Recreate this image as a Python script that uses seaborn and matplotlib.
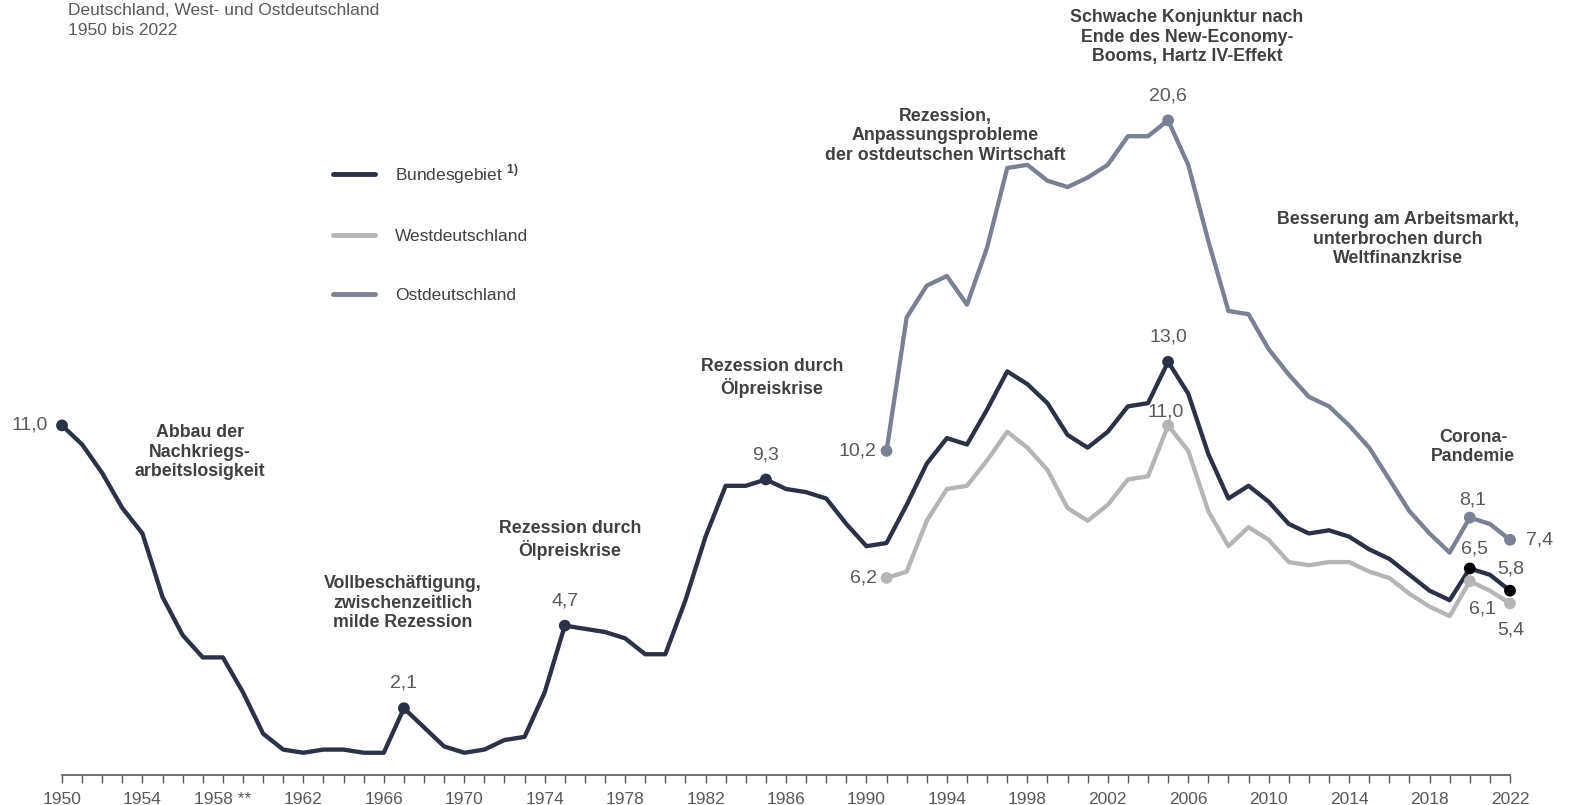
import numpy as np
import pandas as pd
import matplotlib
matplotlib.use("Agg")
import matplotlib.pyplot as plt
import seaborn as sns

# ---------------- data ----------------
years_bund = list(range(1950, 2023))
bund = [11.0, 10.4, 9.5, 8.4, 7.6, 5.6, 4.4, 3.7, 3.7, 2.6,
        1.3, 0.8, 0.7, 0.8, 0.8, 0.7, 0.7, 2.1, 1.5, 0.9,
        0.7, 0.8, 1.1, 1.2, 2.6, 4.7, 4.6, 4.5, 4.3, 3.8,
        3.8, 5.5, 7.5, 9.1, 9.1, 9.3, 9.0, 8.9, 8.7, 7.9,
        7.2, 7.3, 8.5, 9.8, 10.6, 10.4, 11.5, 12.7, 12.3, 11.7,
        10.7, 10.3, 10.8, 11.6, 11.7, 13.0, 12.0, 10.1, 8.7, 9.1,
        8.6, 7.9, 7.6, 7.7, 7.5, 7.1, 6.8, 6.3, 5.8, 5.5,
        6.5, 6.3, 5.8]
years_ow = list(range(1991, 2023))
west = [6.2, 6.4, 8.0, 9.0, 9.1, 9.9, 10.8, 10.3, 9.6, 8.4,
        8.0, 8.5, 9.3, 9.4, 11.0, 10.2, 8.3, 7.2, 7.8, 7.4,
        6.7, 6.6, 6.7, 6.7, 6.4, 6.2, 5.7, 5.3, 5.0, 6.1,
        5.8, 5.4]
ost = [10.2, 14.4, 15.4, 15.7, 14.8, 16.6, 19.1, 19.2, 18.7, 18.5,
       18.8, 19.2, 20.1, 20.1, 20.6, 19.2, 16.8, 14.6, 14.5, 13.4,
       12.6, 11.9, 11.6, 11.0, 10.3, 9.3, 8.3, 7.6, 7.0, 8.1,
       7.9, 7.4]

series_names = ["Bundesgebiet", "Westdeutschland", "Ostdeutschland"]
legend_labels = [r"Bundesgebiet $^{\mathbf{1)}}$", "Westdeutschland", "Ostdeutschland"]
tick_years = list(range(1950, 2023, 4))
tick_labels = [("1958 **" if y == 1958 else str(y)) for y in tick_years]

title_text = "Deutschland, West- und Ostdeutschland\n1950 bis 2022"

# highlighted points: (series, year, label)
marked = [
    ("Bundesgebiet", 1950, "11,0"), ("Bundesgebiet", 1967, "2,1"),
    ("Bundesgebiet", 1975, "4,7"), ("Bundesgebiet", 1985, "9,3"),
    ("Bundesgebiet", 2005, "13,0"), ("Bundesgebiet", 2020, "6,5"),
    ("Bundesgebiet", 2022, "5,8"),
    ("Westdeutschland", 1991, "6,2"), ("Westdeutschland", 2005, "11,0"),
    ("Westdeutschland", 2020, "6,1"), ("Westdeutschland", 2022, "5,4"),
    ("Ostdeutschland", 1991, "10,2"), ("Ostdeutschland", 2005, "20,6"),
    ("Ostdeutschland", 2020, "8,1"), ("Ostdeutschland", 2022, "7,4"),
]

annotations = [
    "Abbau der\nNachkriegs-\narbeitslosigkeit",
    "Vollbeschäftigung,\nzwischenzeitlich\nmilde Rezession",
    "Rezession durch\nÖlpreiskrise",
    "Rezession durch\nÖlpreiskrise",
    "Rezession,\nAnpassungsprobleme\nder ostdeutschen Wirtschaft",
    "Schwache Konjunktur nach\nEnde des New-Economy-\nBooms, Hartz IV-Effekt",
    "Besserung am Arbeitsmarkt,\nunterbrochen durch\nWeltfinanzkrise",
    "Corona-\nPandemie",
]

# ---------------- style ----------------
sns.set_theme(style="white")
plt.rcParams["font.family"] = ["Liberation Sans", "DejaVu Sans"]
plt.rcParams["mathtext.fontset"] = "custom"
plt.rcParams["mathtext.rm"] = "Liberation Sans"
plt.rcParams["mathtext.bf"] = "Liberation Sans:bold"

colors = {"Bundesgebiet": "#2c3246", "Westdeutschland": "#b5b5b5", "Ostdeutschland": "#7a8192"}
TXT = "#404040"
VAL = "#595959"

W, H = 1569, 805
fig = plt.figure(figsize=(W / 100, H / 100), dpi=100)
ax = fig.add_axes([62 / W, 30 / H, 1448 / W, 775 / H])

df = pd.concat([
    pd.DataFrame({"Jahr": years_bund, "Quote": bund, "Gebiet": "Bundesgebiet"}),
    pd.DataFrame({"Jahr": years_ow, "Quote": west, "Gebiet": "Westdeutschland"}),
    pd.DataFrame({"Jahr": years_ow, "Quote": ost, "Gebiet": "Ostdeutschland"}),
], ignore_index=True)

sns.lineplot(data=df, x="Jahr", y="Quote", hue="Gebiet", hue_order=series_names,
             palette=colors, linewidth=3.1, ax=ax, legend=True)
for ln in ax.lines:
    ln.set_clip_on(False)
    ln.set_solid_joinstyle("round")
ax.lines[0].set_zorder(4)

# markers
lookup = {(r.Gebiet, r.Jahr): r.Quote for r in df.itertuples()}
mk = pd.DataFrame([{"Jahr": y, "Quote": lookup[(s, y)], "Gebiet": s, "lab": l} for s, y, l in marked])
mk["farbe"] = [("#000000" if (s == "Bundesgebiet" and y >= 2020) else colors[s])
               for s, y in zip(mk["Gebiet"], mk["Jahr"])]
for farbe, sub in mk.groupby("farbe"):
    sns.scatterplot(data=sub, x="Jahr", y="Quote", color=farbe, s=72, edgecolor="none",
                    ax=ax, legend=False, zorder=6, clip_on=False)

# value label offsets in pixels (dx, dy, ha)
PT = 72 / 100
offs = {
    ("Bundesgebiet", 1950): (-14, 0, "right"),
    ("Bundesgebiet", 1967): (0, 25, "center"),
    ("Bundesgebiet", 1975): (0, 25, "center"),
    ("Bundesgebiet", 1985): (0, 24, "center"),
    ("Bundesgebiet", 2005): (0, 25, "center"),
    ("Bundesgebiet", 2020): (5, 19, "center"),
    ("Bundesgebiet", 2022): (1, 22, "center"),
    ("Westdeutschland", 1991): (-10, 0, "right"),
    ("Westdeutschland", 2005): (-2, 13, "center"),
    ("Westdeutschland", 2020): (13, -28, "center"),
    ("Westdeutschland", 2022): (1, -27, "center"),
    ("Ostdeutschland", 1991): (-10, 0, "right"),
    ("Ostdeutschland", 2005): (0, 24, "center"),
    ("Ostdeutschland", 2020): (3, 18, "center"),
    ("Ostdeutschland", 2022): (16, 0, "left"),
}
for r in mk.itertuples():
    dx, dy, ha = offs[(r.Gebiet, r.Jahr)]
    ax.annotate(r.lab, (r.Jahr, r.Quote), xytext=(dx * PT, dy * PT), textcoords="offset points",
                ha=ha, va="center", fontsize=14, color=VAL, zorder=7, annotation_clip=False)

# axes
ax.set_xlim(1950, 2022)
ax.set_ylim(0, 775 / 31.78)
for s in ["left", "right", "top"]:
    ax.spines[s].set_visible(False)
ax.spines["bottom"].set_color("#555555")
ax.spines["bottom"].set_linewidth(1.2)
ax.set_yticks([])
ax.set_xticks(tick_years)
ax.set_xticklabels(tick_labels)
ax.set_xticks(range(1950, 2023), minor=True)
ax.tick_params(axis="x", which="both", direction="out", length=6, width=1.0, color="#555555",
               bottom=True, labelsize=12.5, labelcolor=VAL, pad=6)
ax.set_xlabel("")
ax.set_ylabel("")

# legend
h, _ = ax.get_legend_handles_labels()
leg = ax.legend(h[:3], legend_labels, loc="upper left", bbox_to_anchor=(333 / W, 1 - 162 / H),
                bbox_transform=fig.transFigure, frameon=False, fontsize=12.5, handlelength=2.4,
                handletextpad=1.15, labelspacing=2.5, borderpad=0, borderaxespad=0)
for t in leg.get_texts():
    t.set_color(TXT)
for lh in leg.get_lines():
    lh.set_linewidth(3.5)

# title (top lines of the reference header)
fig.text(68 / W, 1 - 3 / H, title_text, ha="left", va="top", fontsize=12.5, color=VAL,
         linespacing=1.4)

# annotation texts (centre positions in pixels)
ann_pos = [(200, 452), (403, 603), (570, 540), (772, 378), (945, 136),
           (1187, 37), (1398, 239), (1473, 447)]
for txt, (x, y) in zip(annotations, ann_pos):
    fig.text(x / W, 1 - y / H, txt, ha="center", va="center", fontsize=12.8, fontweight="bold",
             color=TXT, linespacing=1.22, multialignment="center")

fig.savefig("out.png", dpi=100)
